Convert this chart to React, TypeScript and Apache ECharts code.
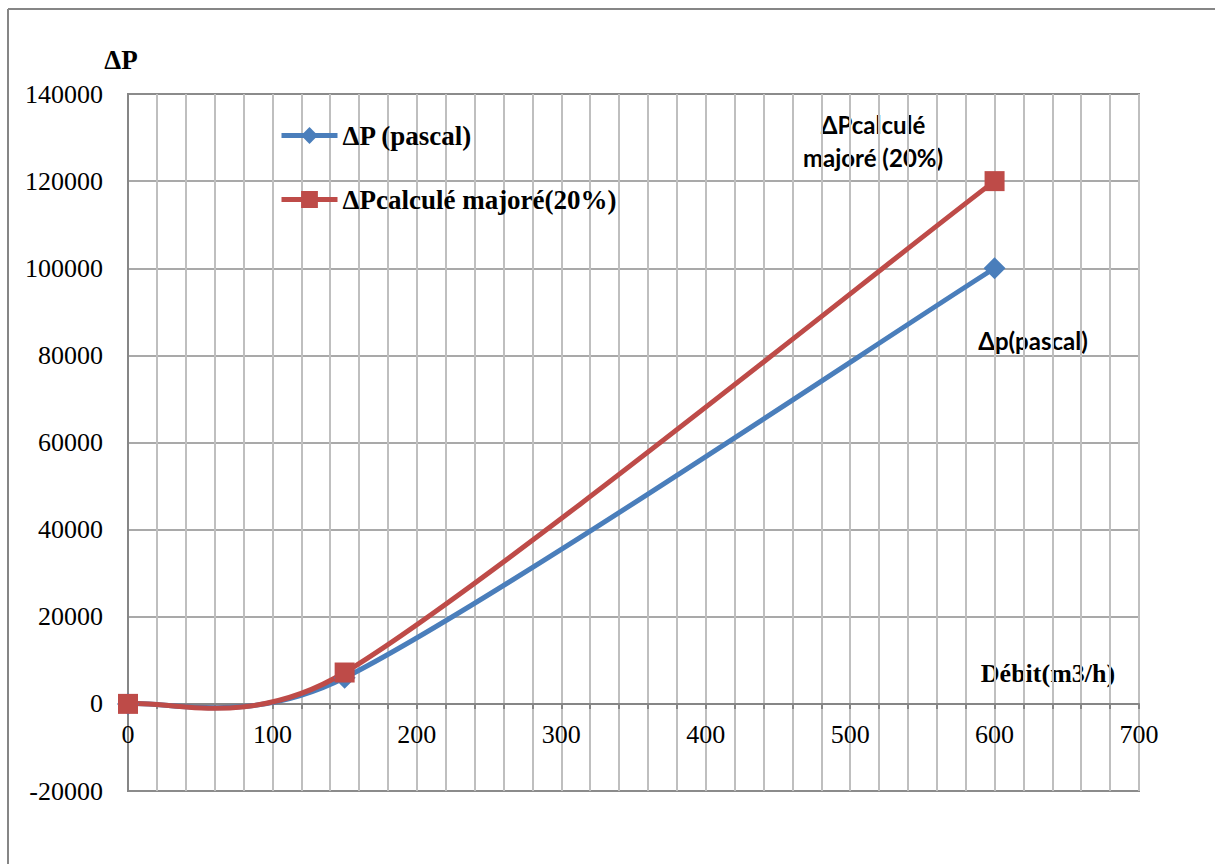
import { useEffect, useRef } from "react";
import * as echarts from "echarts";

// ---- data ----
const debit = [0, 150, 600];
const deltaP = [0, 6000, 100000];
const deltaPMajore = [0, 7200, 120000];
const seriesNames = ["ΔP (pascal)", "ΔPcalculé majoré(20%)"];
const seriesColors = ["#4A7EBB", "#BE4B48"];
const xRange = [0, 700];
const xStep = 100;
const yRange = [-20000, 140000];
const yStep = 20000;
const yAxisTitle = "ΔP";
const xAxisTitle = "Débit(m3/h)";
const noteMajore = "ΔPcalculé\nmajoré (20%)";
const notePascal = "Δp(pascal)";

const SERIF = "'Liberation Serif', 'Times New Roman', serif";
const SANS = "Lato, 'Open Sans', sans-serif";

const GRID_TOP = 94;
const GRID_HEIGHT = 697;

// Smoothed curve (spreadsheet-like bezier smoothing) drawn through the library's coordinate system
function curveSeries(values: number[], color: string) {
  return {
    type: "custom",
    silent: true,
    z: 2,
    data: debit.map((x, i) => [x, values[i]]),
    encode: { x: 0, y: 1 },
    renderItem: (params: any, api: any) => {
      const i = params.dataIndex;
      const n = debit.length;
      if (i >= n - 1) return null;
      const pts = debit.map((x, k) => api.coord([x, values[k]]));
      const P = (k: number) => pts[Math.max(0, Math.min(n - 1, k))];
      const dist = (a: number[], b: number[]) => Math.hypot(a[0] - b[0], a[1] - b[1]);
      const f = 1 / 6;
      const ctrl = (k: number, dir: number) => {
        const prev = P(k - 1);
        const next = P(k + 1);
        const cur = P(k);
        const tx = next[0] - prev[0];
        const ty = next[1] - prev[1];
        let s = 1;
        if (k > 0 && k < n - 1) {
          const dp = dist(prev, cur);
          const dn = dist(cur, next);
          s = dir > 0 ? Math.min(1, Math.pow(dn / dp, 0.3)) : Math.min(1, Math.pow(dp / dn, 0.3));
        }
        return [cur[0] + dir * tx * f * s, cur[1] + dir * ty * f * s];
      };
      const a = pts[i];
      const b = pts[i + 1];
      const c1 = ctrl(i, 1);
      const c2 = ctrl(i + 1, -1);
      return {
        type: "bezierCurve",
        shape: { x1: a[0], y1: a[1], x2: b[0], y2: b[1], cpx1: c1[0], cpy1: c1[1], cpx2: c2[0], cpy2: c2[1] },
        style: { stroke: color, lineWidth: 5, fill: "none", lineCap: "round" },
      };
    },
  };
}

export default function App() {
  const ref = useRef<HTMLDivElement>(null);
  useEffect(() => {
    if (!ref.current) return;
    const chart = echarts.init(ref.current, undefined, { renderer: "svg" });
    const zeroOffset = -((0 - yRange[0]) / (yRange[1] - yRange[0])) * GRID_HEIGHT;
    chart.setOption({
      animation: false,
      backgroundColor: "#ffffff",
      grid: {
        left: 128,
        top: GRID_TOP,
        width: 1011,
        height: GRID_HEIGHT,
        containLabel: false,
        show: true,
        borderColor: "#868686",
        borderWidth: 2,
      },
      legend: {
        orient: "vertical",
        left: 274,
        top: 117,
        itemWidth: 56,
        itemHeight: 21,
        itemGap: 37,
        textStyle: { fontFamily: SERIF, fontWeight: "bold", fontSize: 27, color: "#000" },
        data: seriesNames.map((name, i) => ({
          name,
          lineStyle: { color: seriesColors[i], width: 5, opacity: 1 },
        })),
      },
      xAxis: {
        type: "value",
        position: "bottom",
        offset: zeroOffset,
        min: xRange[0],
        max: xRange[1],
        interval: xStep,
        axisLine: { show: true, onZero: false, lineStyle: { color: "#868686", width: 2 } },
        axisTick: { show: true, length: 5, lineStyle: { color: "#868686", width: 2 } },
        minorTick: { show: true, splitNumber: 5, length: 5, lineStyle: { color: "#868686", width: 2 } },
        axisLabel: { margin: 18, fontFamily: SERIF, fontSize: 26, color: "#000", formatter: (v: number) => String(v) },
        splitLine: { show: true, lineStyle: { color: "#BFBFBF", width: 2 } },
        minorSplitLine: { show: true, lineStyle: { color: "#BFBFBF", width: 2 } },
      },
      yAxis: {
        type: "value",
        min: yRange[0],
        max: yRange[1],
        interval: yStep,
        axisLine: { show: true, onZero: false, lineStyle: { color: "#868686", width: 2 } },
        axisTick: { show: false },
        axisLabel: { margin: 25, fontFamily: SERIF, fontSize: 26, color: "#000", formatter: (v: number) => String(v) },
        splitLine: { show: true, lineStyle: { color: "#8C8C8C", width: 1.5 } },
      },
      series: [
        curveSeries(deltaP, seriesColors[0]),
        curveSeries(deltaPMajore, seriesColors[1]),
        {
          name: seriesNames[0],
          type: "line",
          data: debit.map((x, i) => [x, deltaP[i]]),
          symbol: "diamond",
          symbolSize: 22,
          itemStyle: { color: seriesColors[0] },
          lineStyle: { color: seriesColors[0], width: 5, opacity: 0 },
          z: 3,
        },
        {
          name: seriesNames[1],
          type: "line",
          data: debit.map((x, i) => [x, deltaPMajore[i]]),
          symbol: "rect",
          symbolSize: 20,
          itemStyle: { color: seriesColors[1] },
          lineStyle: { color: seriesColors[1], width: 5, opacity: 0 },
          z: 4,
        },
      ],
      graphic: [
        { type: "line", shape: { x1: 8, y1: 9, x2: 1215, y2: 9 }, style: { stroke: "#868686", lineWidth: 2 } },
        { type: "line", shape: { x1: 8, y1: 9, x2: 8, y2: 864 }, style: { stroke: "#868686", lineWidth: 2 } },
        {
          type: "text",
          x: 121,
          y: 60,
          style: { text: yAxisTitle, font: `bold 27px ${SERIF}`, fill: "#000", align: "center", verticalAlign: "middle" },
        },
        {
          type: "text",
          x: 1048,
          y: 673,
          style: { text: xAxisTitle, font: `bold 26px ${SERIF}`, fill: "#000", align: "center", verticalAlign: "middle" },
        },
        {
          type: "text",
          x: 873,
          y: 141,
          style: {
            text: noteMajore,
            font: `bold 24px ${SANS}`,
            lineHeight: 33,
            fill: "#000",
            align: "center",
            verticalAlign: "middle",
          },
        },
        {
          type: "text",
          x: 1033,
          y: 340,
          style: { text: notePascal, font: `bold 24px ${SANS}`, fill: "#000", align: "center", verticalAlign: "middle" },
        },
      ],
    });
    return () => chart.dispose();
  }, []);
  return (
    <div
      ref={ref}
      style={{ position: "fixed", left: 0, top: 0, width: 1215, height: 864, background: "#fff" }}
    />
  );
}
